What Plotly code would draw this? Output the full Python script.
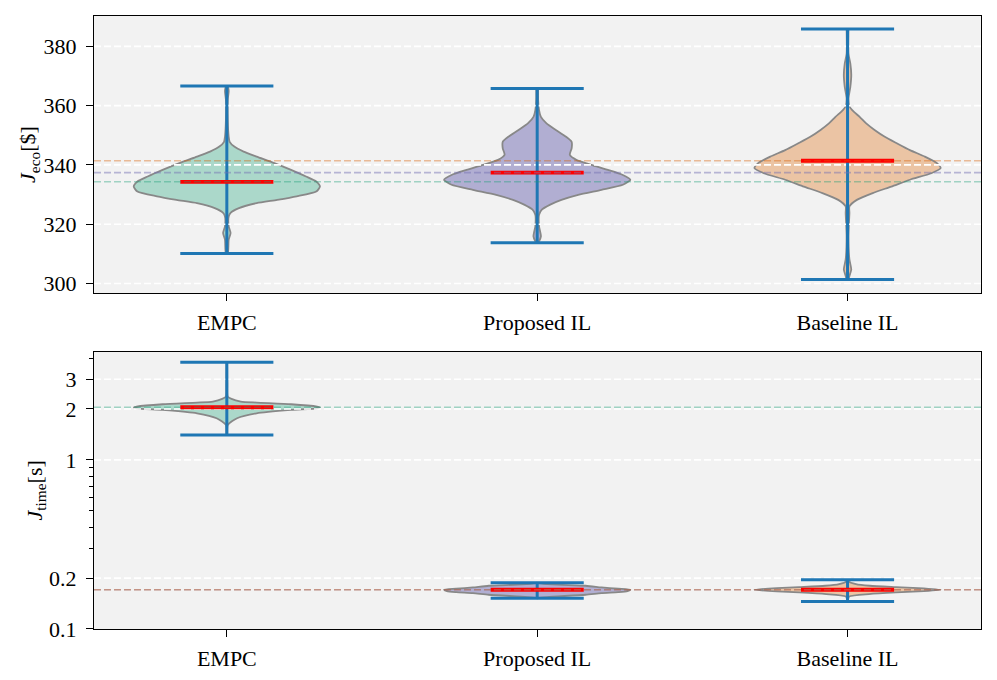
import plotly.graph_objects as go

# ---------------- data ----------------
categories = ["EMPC", "Proposed IL", "Baseline IL"]
positions = [1, 2, 3]

# economic cost J_eco [$]
eco_min = [310.1, 313.7, 301.3]
eco_max = [366.6, 365.8, 385.9]
eco_median = [334.3, 337.4, 341.4]
eco_ticks = [300, 320, 340, 360, 380]

# violin outlines (value levels, relative half-width; 1 = widest)
eco_empc_levels = [366.6, 365.0, 362.0, 355.0, 349.5, 347.8, 346.2, 344.5, 342.8, 340.6, 338.3, 336.1,
                   334.4, 332.7, 331.0, 329.4, 328.2, 327.1, 325.4, 323.8, 322.6, 319.3, 317.0, 314.8, 310.1]
eco_empc_width = [0.01, 0.02, 0.01, 0.01, 0.02, 0.03, 0.08, 0.18, 0.32, 0.51, 0.69, 0.85,
                  0.96, 1.0, 0.96, 0.75, 0.54, 0.32, 0.13, 0.04, 0.02, 0.02, 0.04, 0.02, 0.01]
eco_prop_levels = [365.8, 362.0, 358.5, 356.2, 354.0, 351.8, 349.5, 347.8, 345.6, 343.4, 341.7, 340.0, 338.3,
                   336.6, 335.0, 333.3, 331.6, 329.9, 328.2, 326.6, 324.9, 323.2, 319.3, 315.9, 314.2, 313.7]
eco_prop_width = [0.01, 0.01, 0.02, 0.04, 0.10, 0.20, 0.31, 0.37, 0.37, 0.35, 0.42, 0.58, 0.76,
                  0.92, 1.0, 0.92, 0.69, 0.44, 0.26, 0.14, 0.05, 0.02, 0.02, 0.04, 0.02, 0.01]
eco_base_levels = [385.9, 377.5, 374.2, 370.3, 366.3, 362.4, 359.8, 358.5, 356.2, 354.0, 351.8, 349.5, 347.3,
                   345.0, 342.8, 340.6, 338.9, 337.2, 335.0, 332.7, 330.5, 328.2, 326.0, 323.8, 315.9,
                   308.1, 304.7, 302.5, 301.3]
eco_base_width = [0.01, 0.01, 0.03, 0.04, 0.03, 0.01, 0.02, 0.05, 0.13, 0.20, 0.29, 0.40, 0.53,
                  0.67, 0.83, 0.96, 1.0, 0.90, 0.67, 0.47, 0.27, 0.10, 0.02, 0.02, 0.01,
                  0.02, 0.04, 0.02, 0.01]

# computation time J_time [s]
time_min = [1.405, 0.152, 0.1456]
time_max = [3.78, 0.188, 0.1955]
time_median = [2.047, 0.1706, 0.1706]
time_ticks = [0.1, 0.2, 1, 2, 3]
time_ticktext = ["0.1", "0.2", "1", "2", "3"]
time_minor_ticks = [0.3, 0.4, 0.5, 0.6, 0.7, 0.8, 0.9, 4]

time_empc_levels = [3.78, 2.8, 2.367, 2.293, 2.211, 2.181, 2.132, 2.065, 2.047, 2.019, 1.974, 1.886,
                    1.763, 1.609, 1.405]
time_empc_width = [0.003, 0.005, 0.01, 0.05, 0.15, 0.32, 0.69, 0.97, 1.0, 0.97, 0.69, 0.32,
                   0.11, 0.01, 0.003]
time_prop_levels = [0.188, 0.1868, 0.1834, 0.1802, 0.1762, 0.1730, 0.1706, 0.1676, 0.1653, 0.1631,
                    0.1594, 0.1545, 0.1525, 0.152]
time_prop_width = [0.003, 0.02, 0.16, 0.52, 0.69, 0.87, 1.0, 0.97, 0.87, 0.69, 0.52, 0.11, 0.01, 0.003]
time_base_levels = [0.1955, 0.1912, 0.1843, 0.1802, 0.1770, 0.1746, 0.1706, 0.1668, 0.1646, 0.1609,
                    0.1559, 0.150, 0.1456]
time_base_width = [0.003, 0.01, 0.09, 0.24, 0.52, 0.76, 1.0, 0.76, 0.52, 0.23, 0.02, 0.005, 0.003]

# ---------------- style ----------------
FONT = "Liberation Serif"
FS = 22
BG = "#f2f2f2"
VIOLIN_WIDTH = 0.6
CAP_HALF = 0.15
X_RANGE = [0.572, 3.43]
fills = ["#abd8ca", "#b1aed2", "#ebc4a4"]
edge = "#888888"
mean_cols = ["rgba(27,158,119,0.38)", "rgba(117,112,179,0.48)", "rgba(217,95,2,0.38)"]
BLUE = "#1f77b4"

fig = go.Figure()


def add_panel(xa, ya, levels_list, widths_list, mins, maxs, medians, grid_vals):
    # violin bodies
    for pos, lev, wid, fc in zip(positions, levels_list, widths_list, fills):
        xs = [pos + VIOLIN_WIDTH / 2 * w for w in wid] + [pos - VIOLIN_WIDTH / 2 * w for w in wid[::-1]]
        ys = list(lev) + list(lev[::-1])
        fig.add_trace(go.Scatter(x=xs, y=ys, xaxis=xa, yaxis=ya, mode="lines", fill="toself",
                                 fillcolor=fc, line=dict(color=edge, width=1.8, shape="spline", smoothing=0.6),
                                 hoverinfo="skip", showlegend=False))
    # white dashed grid
    for g in grid_vals:
        fig.add_trace(go.Scatter(x=X_RANGE, y=[g, g], xaxis=xa, yaxis=ya, mode="lines",
                                 line=dict(color="white", width=1.6, dash="7px,3px"),
                                 hoverinfo="skip", showlegend=False))
    # extrema bars
    for pos, lo, hi in zip(positions, mins, maxs):
        fig.add_trace(go.Scatter(
            x=[pos, pos, None, pos - CAP_HALF, pos + CAP_HALF, None, pos - CAP_HALF, pos + CAP_HALF],
            y=[lo, hi, None, lo, lo, None, hi, hi], xaxis=xa, yaxis=ya, mode="lines",
            line=dict(color=BLUE, width=3), hoverinfo="skip", showlegend=False))
    # medians
    for pos, m in zip(positions, medians):
        fig.add_trace(go.Scatter(x=[pos - CAP_HALF, pos + CAP_HALF], y=[m, m], xaxis=xa, yaxis=ya,
                                 mode="lines", line=dict(color="red", width=3.8),
                                 hoverinfo="skip", showlegend=False))
    # dashed reference lines at medians
    for m, c in zip(medians, mean_cols):
        fig.add_trace(go.Scatter(x=X_RANGE, y=[m, m], xaxis=xa, yaxis=ya, mode="lines",
                                 line=dict(color=c, width=1.6, dash="7px,3px"),
                                 hoverinfo="skip", showlegend=False))


add_panel("x", "y", [eco_empc_levels, eco_prop_levels, eco_base_levels],
          [eco_empc_width, eco_prop_width, eco_base_width], eco_min, eco_max, eco_median, eco_ticks)
add_panel("x2", "y2", [time_empc_levels, time_prop_levels, time_base_levels],
          [time_empc_width, time_prop_width, time_base_width], time_min, time_max, time_median,
          time_ticks[1:])

axis_common = dict(showline=True, linecolor="black", linewidth=1.3, mirror=True, ticks="outside",
                   ticklen=7, tickwidth=1.2, tickcolor="black", showgrid=False, zeroline=False,
                   automargin=False, tickfont=dict(family=FONT, size=FS, color="black"))

# the page body adds an 8 px offset, so the figure is sized to fit the 997x680 window
fig.update_layout(
    width=981, height=664,
    margin=dict(l=86, r=8, t=8, b=43),
    paper_bgcolor="white", plot_bgcolor=BG,
    font=dict(family=FONT, size=FS, color="black"),
    showlegend=False,
    xaxis=dict(domain=[0, 1], anchor="y", range=X_RANGE, tickmode="array", tickvals=positions,
               ticktext=categories, ticklabelstandoff=2, **axis_common),
    yaxis=dict(domain=[0.548, 1], anchor="x", range=[296.75, 390.25], tickmode="array",
               tickvals=eco_ticks, ticklabelstandoff=5,
               title=dict(text="<i>J</i><sub>eco</sub>[$]", font=dict(family=FONT, size=FS), standoff=1),
               **axis_common),
    xaxis2=dict(domain=[0, 1], anchor="y2", range=X_RANGE, tickmode="array", tickvals=positions,
                ticktext=categories, ticklabelstandoff=2, **axis_common),
    yaxis2=dict(domain=[0, 0.4524], anchor="x2", type="log", range=[-1, 0.6397], tickmode="array",
                tickvals=time_ticks, ticktext=time_ticktext, ticklabelstandoff=5,
                minor=dict(tickmode="array", tickvals=time_minor_ticks, ticks="outside", ticklen=4,
                           tickwidth=1, tickcolor="black", showgrid=False),
                title=dict(text="<i>J</i><sub>time</sub>[s]", font=dict(family=FONT, size=FS), standoff=0),
                **axis_common),
)

fig.write_html("out.html")
